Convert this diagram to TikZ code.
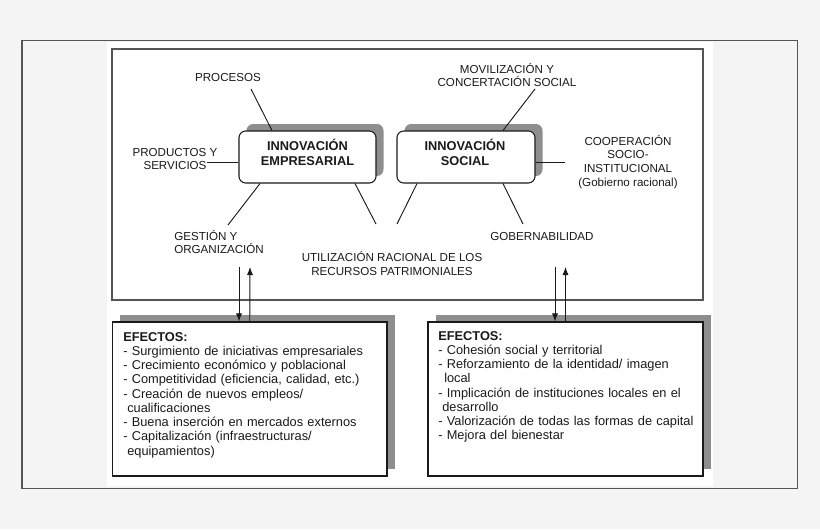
\documentclass[tikz,border=0pt]{standalone}
\usepackage{fontspec}
\setmainfont{Liberation Sans}
\usetikzlibrary{calc,arrows.meta}
\definecolor{bg}{HTML}{F4F4F4}
\definecolor{shadowgray}{HTML}{8E8E8E}
\definecolor{framegray}{HTML}{555555}
\definecolor{ink}{HTML}{1A1A1A}
\begin{document}
\begin{tikzpicture}[x=0.75pt,y=-0.75pt,
  lbl/.style={font=\fontsize{8.7}{10.3}\selectfont, text=ink, align=center, inner sep=0pt},
  ttl/.style={font=\bfseries\fontsize{9.6}{11.25}\selectfont, text=ink, align=center, inner sep=0pt},
  innobox/.style={draw=ink, line width=0.8pt, fill=white, rounded corners=5pt, minimum height=39pt, inner sep=0pt},
  innoshadow/.style={fill=shadowgray, rounded corners=5pt, minimum height=39pt, inner sep=0pt},
  effbox/.style={draw=ink, line width=0.8pt, fill=white, minimum height=115.5pt, inner sep=0pt},
  effshadow/.style={fill=shadowgray, minimum height=115.5pt, inner sep=0pt},
  efftext/.style={font=\fontsize{9.6}{10.7}\selectfont, text=ink, text width=205pt, align=left, inner sep=0pt},
  conn/.style={draw=ink, line width=0.7pt},
  arr/.style={draw=ink, line width=0.7pt, -{Latex[length=6pt,width=4.6pt]}}
]
\useasboundingbox (0,0) rectangle (820,529);
% background and frames
\fill[bg] (0,0) rectangle (820,529);
\draw[framegray, line width=0.9pt] (22,40.5) rectangle (797.5,488.5);
\fill[white] (107,42) rectangle (713,486);
\draw[draw=framegray, fill=white, line width=0.8pt] (112,49) rectangle (703,300);

% innovation boxes
\node[innoshadow, minimum width=102.75pt] at (315,150) {};
\node[innobox, minimum width=102.75pt] (emp) at (307.5,157) {};
\node[ttl] (empt) at (307.5,152.5) {INNOVACIÓN\\EMPRESARIAL};
\node[innoshadow, minimum width=103.5pt] at (473.5,150) {};
\node[innobox, minimum width=103.5pt] (soc) at (466,157) {};
\node[ttl] (soct) at (465,152.5) {INNOVACIÓN\\SOCIAL};

% labels
\node[lbl] (proc) at (228,78) {PROCESOS};
\node[lbl] (prod) at (175,159) {PRODUCTOS Y\\SERVICIOS};
\node[lbl, align=left, anchor=west] (gest) at (174,242) {GESTIÓN Y\\ORGANIZACIÓN};
\node[lbl] (util) at (392,263.5) {UTILIZACIÓN RACIONAL DE LOS\\RECURSOS PATRIMONIALES};
\node[lbl] (movi) at (507,75) {MOVILIZACIÓN Y\\CONCERTACIÓN SOCIAL};
\node[lbl] (coop) at (628,162) {COOPERACIÓN\\SOCIO-\\INSTITUCIONAL\\(Gobierno racional)};
\node[lbl] (gobe) at (542,236) {GOBERNABILIDAD};

% connector ends near labels
\coordinate (cproc) at (251,89);
\coordinate (cprod) at (207,162);
\coordinate (cgest) at (228,225);
\coordinate (cutil1) at (376,224);
\coordinate (cutil2) at (397,224);
\coordinate (cmovi) at (535,89);
\coordinate (ccoop) at (565,162);
\coordinate (cgobe) at (523,224);

\draw[conn] (cproc) -- ($(emp.north)+(-35.5,0)$);
\draw[conn] (cprod) -- ($(emp.west)+(0,5)$);
\draw[conn] (cgest) -- ($(emp.south)+(-47.5,0)$);
\draw[conn] (cutil1) -- ($(emp.south)+(47.5,0)$);
\draw[conn] (cutil2) -- ($(soc.south)+(-49,0)$);
\draw[conn] (cmovi) -- ($(soc.north)+(37,0)$);
\draw[conn] (ccoop) -- ($(soc.east)+(0,5)$);
\draw[conn] (cgobe) -- ($(soc.south)+(37,0)$);

% effects boxes
\node[effshadow, minimum width=205.9pt] at (257.5,391.5) {};
\node[effbox, minimum width=205.9pt] (effL) at (249.75,399) {};
\node[effshadow, minimum width=206.25pt] at (573,391.5) {};
\node[effbox, minimum width=206.25pt] (effR) at (565.5,399) {};

\node[efftext, anchor=base west] (txtL) at (123,341) {\textbf{EFECTOS:}\\
- Surgimiento de iniciativas empresariales\\
- Crecimiento económico y poblacional\\
- Competitividad (eficiencia, calidad, etc.)\\
- Creación de nuevos empleos/\\
\hspace*{3pt}cualificaciones\\
- Buena inserción en mercados externos\\
- Capitalización (infraestructuras/\\
\hspace*{3pt}equipamientos)};
\node[efftext, anchor=base west] (txtR) at (438,340) {\textbf{EFECTOS:}\\
- Cohesión social y territorial\\
- Reforzamiento de la identidad/ imagen\\
\hspace*{4.5pt}local\\
- Implicación de instituciones locales en el\\
\hspace*{3pt}desarrollo\\
- Valorización de todas las formas de capital\\
- Mejora del bienestar};

% arrows
\coordinate (aLdown) at (239,267);
\coordinate (aLup) at (250,267);
\coordinate (aRdown) at (555,267);
\coordinate (aRup) at (565.5,267);
\draw[arr] (aLdown) -- (aLdown |- effL.north);
\draw[arr] (effL.north) -- (aLup);
\draw[arr] (aRdown) -- (aRdown |- effR.north);
\draw[arr] (effR.north) -- (aRup);
\end{tikzpicture}
\end{document}
